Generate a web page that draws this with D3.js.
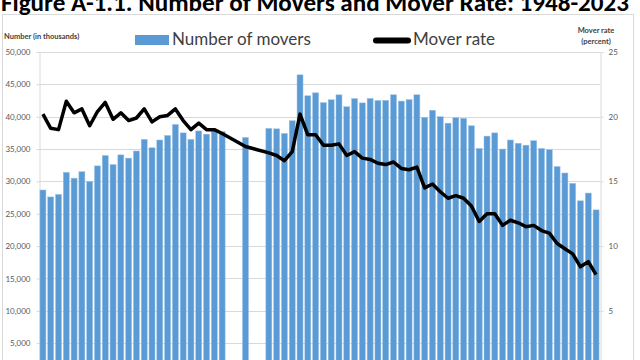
<!DOCTYPE html>
<html><head><meta charset="utf-8">
<script src="https://cdn.jsdelivr.net/npm/d3@7"></script>
<style>html,body{margin:0;padding:0;background:#fff;overflow:hidden}</style>
</head><body>
<svg id="c" width="640" height="360"></svg>
<script>
// Categories (slots on the x axis). Empty slots have null values.
const years = ["1948","1949","1950","1951","1952","1953","1954","1955","1956","1957","1958","1959",
  "1960","1961","1962","1963","1964","1965","1966","1967","1968","1969","1970","1971",
  "1972-73","1973-75","1976","1977-79","1975-80",
  "1981","1982","1983","1984","1985","1986","1987","1988","1989","1990","1991","1992","1993","1994",
  "1995","1996","1997","1998","1999","2000","2001","2002","2003","2004","2005","2006","2007","2008",
  "2009","2010","2011","2012","2013","2014","2015","2016","2017","2018","2019","2020","2021","2022","2023"];
// Number of movers (thousands)
const movers = [28672,27600,28000,31400,30500,31500,30000,32400,34000,32600,34100,33600,
  34700,36500,35200,36400,37100,38800,37500,36500,37800,37300,37800,37705,
  null,null,36793,null,null,
  38200,38127,37408,39379,46470,43237,43693,42174,42620,43381,41539,42800,42137,42835,
  42507,42537,43391,42415,42636,43388,39900,41000,40000,39000,39850,39750,38600,35100,
  37000,37500,35000,36400,35900,35600,36300,35100,34900,32300,31300,29700,27000,28200,25600];
// Mover rate (percent)
const rate = [20.2,19.1,19.0,21.2,20.3,20.6,19.3,20.4,21.1,19.8,20.3,19.7,
  19.9,20.6,19.6,20.0,20.1,20.6,19.7,19.0,19.5,19.0,19.0,18.7,
  null,null,17.7,null,null,
  17.2,17.0,16.6,17.3,20.2,18.6,18.6,17.8,17.8,17.9,17.0,17.3,16.8,16.7,
  16.4,16.3,16.5,16.0,15.9,16.1,14.5,14.8,14.2,13.7,13.9,13.7,13.1,11.9,
  12.5,12.5,11.6,12.0,11.8,11.5,11.6,11.2,11.0,10.2,9.8,9.4,8.4,8.8,7.8];
const leftTicks = [5000,10000,15000,20000,25000,30000,35000,40000,45000,50000];
const rightTicks = [5,10,15,20,25];

const svg = d3.select("#c");
const fontF = "Lato, 'Liberation Sans', Arial, sans-serif";
const x = d3.scaleBand().domain(years).range([39, 600]).paddingInner(0.23).paddingOuter(0.12);
const yL = d3.scaleLinear().domain([0, 50000]).range([375.5, 52]);
const yR = d3.scaleLinear().domain([0, 25]).range([375.5, 52]);

// frame
svg.append("rect").attr("x",2.5).attr("y",14.5).attr("width",631).attr("height",400)
  .attr("fill","none").attr("stroke","#d9d9d9");

// title
svg.append("text").attr("x",1).attr("y",11).attr("textLength",628).attr("lengthAdjust","spacingAndGlyphs")
  .attr("font-family","Carlito, 'Open Sans', 'Liberation Sans', sans-serif").attr("font-weight","bold")
  .attr("font-size",24).attr("fill","#000").text("Figure A-1.1. Number of Movers and Mover Rate: 1948-2023");

// gridlines
svg.append("g").selectAll("line").data(leftTicks).join("line")
  .attr("x1",39).attr("x2",600).attr("y1",d=>Math.round(yL(d))+0.5).attr("y2",d=>Math.round(yL(d))+0.5)
  .attr("stroke","#d9d9d9").attr("stroke-width",1);

// axes
const gL = svg.append("g").attr("transform","translate(39.5,0)")
  .call(d3.axisLeft(yL).tickValues(leftTicks).tickSize(3).tickPadding(6).tickFormat(d3.format(",")));
const gR = svg.append("g").attr("transform","translate(600.5,0)")
  .call(d3.axisRight(yR).tickValues(rightTicks).tickSize(3).tickPadding(5).tickFormat(d3.format("d")));
[gL,gR].forEach(g=>{
  g.select(".domain").attr("stroke","#d9d9d9");
  g.selectAll(".tick line").attr("stroke","#d9d9d9");
  g.selectAll(".tick text").attr("fill","#595959").attr("font-size",8).attr("font-family",fontF);
});

// bars
const barData = years.map((y,i)=>({y, v: movers[i], r: rate[i]}));
svg.append("g").selectAll("rect").data(barData.filter(d=>d.v!=null)).join("rect")
  .attr("x",d=>x(d.y)).attr("width",x.bandwidth())
  .attr("y",d=>yL(d.v)).attr("height",d=>yL(0)-yL(d.v))
  .attr("fill","#5B9BD5").attr("stroke","#9DC3E6").attr("stroke-width",0.5);

// line
const line = d3.line().x(d=>x(d.y)+x.bandwidth()/2).y(d=>yR(d.r));
svg.append("path").datum(barData.filter(d=>d.r!=null)).attr("d",line)
  .attr("fill","none").attr("stroke","#000").attr("stroke-width",3.5).attr("stroke-linejoin","round");

// axis titles
svg.append("text").attr("x",4).attr("y",39).attr("font-family",fontF).attr("font-size",7.5)
  .attr("font-weight","bold").attr("fill","#404040").text("Number (in thousands)");
svg.append("text").attr("x",596).attr("y",33).attr("text-anchor","middle").attr("font-family",fontF)
  .attr("font-size",7.5).attr("font-weight","bold").attr("fill","#404040").text("Mover rate");
svg.append("text").attr("x",596).attr("y",44).attr("text-anchor","middle").attr("font-family",fontF)
  .attr("font-size",7.5).attr("font-weight","bold").attr("fill","#404040").text("(percent)");

// legend
svg.append("rect").attr("x",135).attr("y",35).attr("width",34).attr("height",10).attr("fill","#5B9BD5");
svg.append("text").attr("x",172).attr("y",45).attr("font-family",fontF).attr("font-size",17)
  .attr("fill","#404040").text("Number of movers");
svg.append("line").attr("x1",376).attr("x2",408).attr("y1",40.5).attr("y2",40.5)
  .attr("stroke","#000").attr("stroke-width",6).attr("stroke-linecap","round");
svg.append("text").attr("x",413).attr("y",45).attr("font-family",fontF).attr("font-size",17)
  .attr("fill","#404040").text("Mover rate");
</script>
</body></html>
